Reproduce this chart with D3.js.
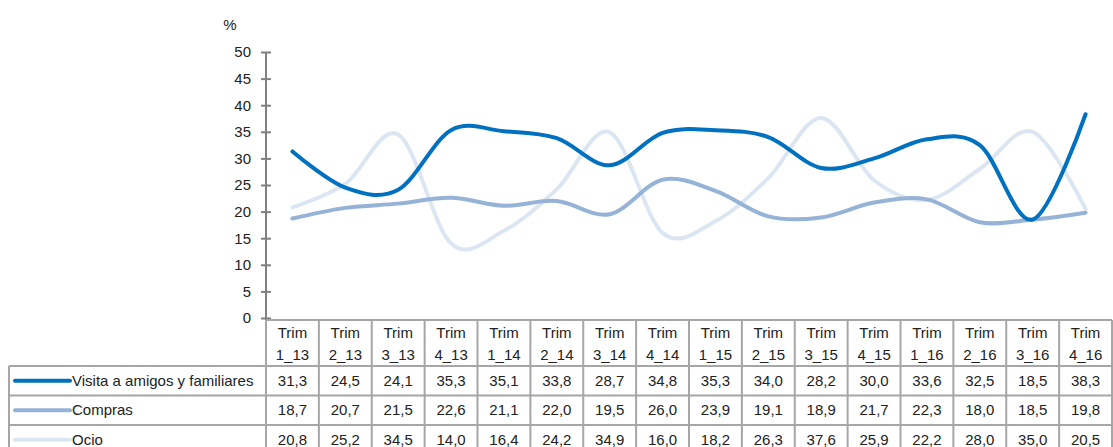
<!DOCTYPE html>
<html>
<head>
<meta charset="utf-8">
<script src="https://cdn.jsdelivr.net/npm/d3@7"></script>
<style>
  body { margin: 0; background: #fff; }
  svg { font-family: "Liberation Sans", Arial, sans-serif; }
</style>
</head>
<body>
<svg width="1113" height="447"></svg>
<script>
var width = 1113,
    height = 447

var quarters = ["1_13", "2_13", "3_13", "4_13", "1_14", "2_14", "3_14", "4_14",
                "1_15", "2_15", "3_15", "4_15", "1_16", "2_16", "3_16", "4_16"];

var visita = [31.3, 24.5, 24.1, 35.3, 35.1, 33.8, 28.7, 34.8, 35.3, 34.0, 28.2, 30.0, 33.6, 32.5, 18.5, 38.3];
var compras = [18.7, 20.7, 21.5, 22.6, 21.1, 22.0, 19.5, 26.0, 23.9, 19.1, 18.9, 21.7, 22.3, 18.0, 18.5, 19.8];
var ocio = [20.8, 25.2, 34.5, 14.0, 16.4, 24.2, 34.9, 16.0, 18.2, 26.3, 37.6, 25.9, 22.2, 28.0, 35.0, 20.5];

var yTicks = [0, 5, 10, 15, 20, 25, 30, 35, 40, 45, 50];

var series = [
    { name: "Visita a amigos y familiares", values: visita, color: "#0070c0" },
    { name: "Compras", values: compras, color: "#95b3d7" },
    { name: "Ocio", values: ocio, color: "#dce6f2" }
];

var tableLeft = 266,
    tableRight = 1112,
    legendLeft = 9,
    headerTop = 320,
    headerBottom = 366,
    rowHeight = 29.5;

var svg = d3.select("svg");

var x = d3.scaleBand()
    .domain(quarters)
    .range([tableLeft, tableRight]);

var y = d3.scaleLinear()
    .domain([0, 50])
    .range([318, 52]);

var gridColor = "#a6a6a6";

// y axis
var yAxis = svg.append("g")
    .attr("transform", "translate(" + tableLeft + ",0)")
    .call(d3.axisLeft(y).tickValues(yTicks).tickSize(5).tickPadding(10));

yAxis.selectAll("line").attr("x2", 5).attr("x1", -5);
yAxis.selectAll(".tick line").attr("x2", 5).attr("stroke", "#808080").attr("stroke-width", 2);
yAxis.select(".domain").attr("d", "M0," + y(50) + "V" + headerTop).attr("stroke", "#808080").attr("stroke-width", 2);
yAxis.selectAll("text")
    .attr("font-size", 15)
    .attr("fill", "#222")
    .attr("font-family", "Liberation Sans, Arial, sans-serif");

svg.append("text")
    .attr("x", 230)
    .attr("y", 30)
    .attr("text-anchor", "middle")
    .attr("font-size", 15)
    .attr("fill", "#222")
    .text("%");

// table
var table = svg.append("g").attr("class", "table");

table.append("line")
    .attr("x1", tableLeft).attr("x2", tableRight)
    .attr("y1", headerTop).attr("y2", headerTop)
    .attr("stroke", gridColor).attr("stroke-width", 2);

quarters.forEach(function (q) {
    table.append("line")
        .attr("x1", x(q) + x.bandwidth()).attr("x2", x(q) + x.bandwidth())
        .attr("y1", headerTop).attr("y2", height)
        .attr("stroke", gridColor).attr("stroke-width", 2);
});

table.append("line")
    .attr("x1", tableLeft).attr("x2", tableLeft)
    .attr("y1", headerTop).attr("y2", height)
    .attr("stroke", gridColor).attr("stroke-width", 2);

table.append("line")
    .attr("x1", legendLeft).attr("x2", legendLeft)
    .attr("y1", headerBottom).attr("y2", height)
    .attr("stroke", gridColor).attr("stroke-width", 2);

[0, 1, 2].forEach(function (i) {
    var yy = headerBottom + i * rowHeight;
    table.append("line")
        .attr("x1", legendLeft).attr("x2", tableRight)
        .attr("y1", yy).attr("y2", yy)
        .attr("stroke", gridColor).attr("stroke-width", 2);
});

var header = table.selectAll(".head")
    .data(quarters)
    .enter()
    .append("text")
    .attr("class", "head")
    .attr("text-anchor", "middle")
    .attr("font-size", 15)
    .attr("fill", "#222");

header.append("tspan")
    .attr("x", function (d) { return x(d) + x.bandwidth() / 2; })
    .attr("y", 338)
    .text("Trim");

header.append("tspan")
    .attr("x", function (d) { return x(d) + x.bandwidth() / 2; })
    .attr("y", 360)
    .text(function (d) { return d; });

function fmt(v) {
    return v.toFixed(1).replace(".", ",");
}

series.forEach(function (s, i) {
    var rowMid = headerBottom + i * rowHeight + rowHeight / 2;

    table.append("line")
        .attr("x1", 15).attr("x2", 70)
        .attr("y1", rowMid).attr("y2", rowMid)
        .attr("stroke", s.color)
        .attr("stroke-width", 4)
        .attr("stroke-linecap", "round");

    table.append("text")
        .attr("x", 72)
        .attr("y", rowMid + 5)
        .attr("font-size", 15)
        .attr("fill", "#222")
        .text(s.name);

    table.selectAll(".v" + i)
        .data(s.values)
        .enter()
        .append("text")
        .attr("x", function (d, j) { return x(quarters[j]) + x.bandwidth() / 2; })
        .attr("y", rowMid + 5)
        .attr("text-anchor", "middle")
        .attr("font-size", 15)
        .attr("fill", "#222")
        .text(fmt);
});

// lines
var line = d3.line()
    .x(function (d, j) { return x(quarters[j]) + x.bandwidth() / 2; })
    .y(function (d) { return y(d); })
    .curve(d3.curveCatmullRom.alpha(0));

svg.append("g")
    .selectAll("path")
    .data(series.slice().reverse())
    .enter()
    .append("path")
    .attr("d", function (d) { return line(d.values); })
    .attr("fill", "none")
    .attr("stroke", function (d) { return d.color; })
    .attr("stroke-width", 4)
    .attr("stroke-linecap", "round");
</script>
</body>
</html>
